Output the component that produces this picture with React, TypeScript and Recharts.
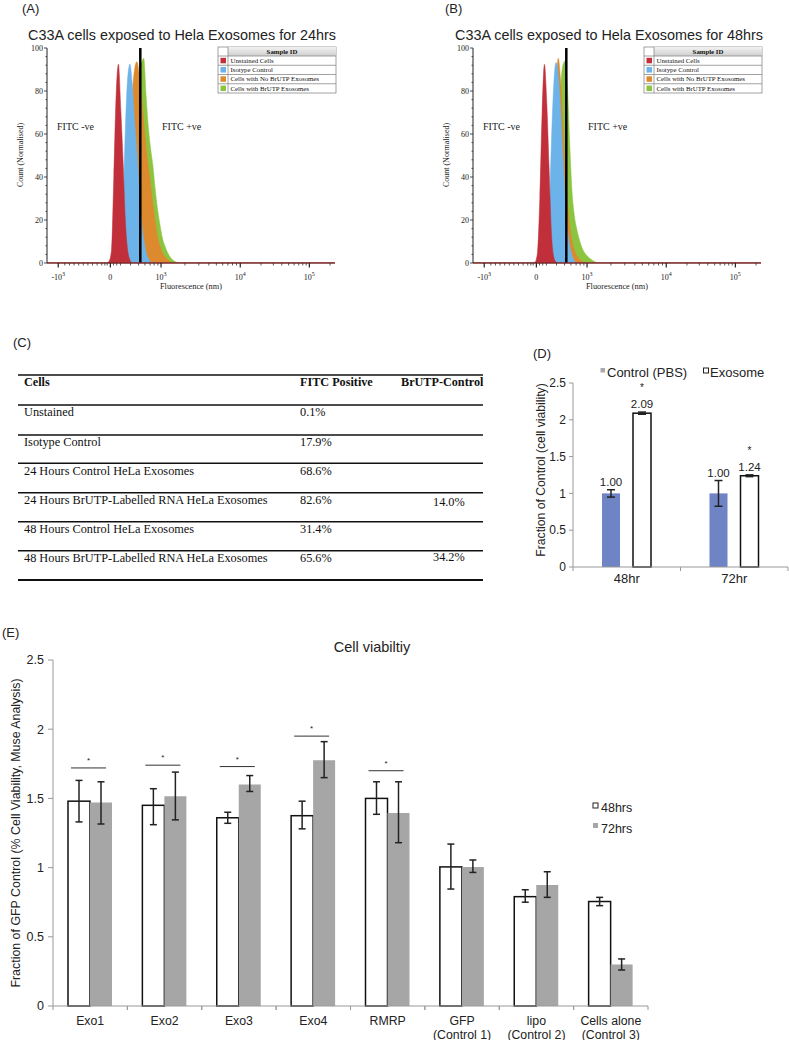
import React from 'react';
import { AreaChart, Area, XAxis, YAxis, ReferenceLine, BarChart, Bar, ErrorBar } from 'recharts';

const SANS = "'Liberation Sans', Arial, Helvetica, sans-serif";
const SERIF = "'Liberation Serif', 'Times New Roman', Times, serif";

// ---- (A)/(B) flow histograms, x in display channels of the biexponential axis ----
const flowChannels = [0, 200, 208, 216, 224, 232, 240, 248, 256, 264, 272, 280, 288, 296, 304, 312, 320, 328, 336, 344, 352, 360, 368, 376, 384, 392, 400, 412, 424, 436, 448, 460, 1000];

const unstained24 = [0, 0, 0, 1, 6, 40, 78, 92.5, 72, 48, 20, 6, 1.5, 0, 0, 0, 0, 0, 0, 0, 0, 0, 0, 0, 0, 0, 0, 0, 0, 0, 0, 0, 0];
const isotype24 = [0, 0, 0, 0, 0, 0, 0, 0, 3, 25, 62, 86, 92.5, 83, 66, 52, 35, 20, 11, 5, 2, 0.5, 0, 0, 0, 0, 0, 0, 0, 0, 0, 0, 0];
const noBrutp24 = [0, 0, 0, 0, 0, 0, 0, 0, 0, 0, 5, 25, 55, 78, 90, 93.6, 88, 78, 66, 54, 45, 36, 27, 19, 12, 8, 5, 2.5, 1, 0, 0, 0, 0];
const brutp24 = [0, 0, 0, 0, 0, 0, 0, 0, 0, 0, 0, 0, 8, 30, 60, 80, 89, 93, 95.2, 78, 63, 53, 45, 34, 25, 18, 12, 7, 3.5, 1.5, 0.5, 0, 0];

const unstained48 = [0, 0, 0, 0.5, 5, 30, 70, 92.4, 75, 45, 15, 3, 0.5, 0, 0, 0, 0, 0, 0, 0, 0, 0, 0, 0, 0, 0, 0, 0, 0, 0, 0, 0, 0];
const isotype48 = [0, 0, 0, 0, 0, 0, 0, 0, 0, 20, 55, 82, 93.3, 88, 72, 50, 30, 16, 8, 3.5, 1, 0, 0, 0, 0, 0, 0, 0, 0, 0, 0, 0, 0];
const noBrutp48 = [0, 0, 0, 0, 0, 0, 0, 0, 0, 0, 8, 40, 78, 95.2, 85, 65, 44, 28, 17, 10, 6, 3.5, 2, 1, 0.5, 0, 0, 0, 0, 0, 0, 0, 0];
const brutp48 = [0, 0, 0, 0, 0, 0, 0, 0, 0, 0, 0, 0, 15, 50, 80, 92, 94, 82, 55, 33, 22, 16, 11.5, 8, 5.5, 4, 2.8, 1.5, 0.5, 0, 0, 0, 0];

const sampleNames = ['Unstained Cells', 'Isotype Control', 'Cells with No BrUTP Exosomes', 'Cells with BrUTP Exosomes'];
const sampleColors = ['#c1303a', '#6cb3ea', '#dd8a2e', '#8cc43f'];
const gateChannel = [324, 324];
const flowTitles = ['C33A cells exposed to Hela Exosomes for 24hrs', 'C33A cells exposed to Hela Exosomes for 48hrs'];

const flowMajorTicks = [39, 220, 396, 671, 911];
const flowMajorLabels = ['-10^3', '0', '10^3', '10^4', '10^5'];
const flowMinorTicks = [62, 78, 94, 110, 126, 142, 158, 174, 190, 201, 209, 231, 242, 255, 290, 318, 340, 358, 372, 385, 479, 527, 562, 588, 610, 628, 644, 658, 743, 786, 815, 839, 858, 874, 888, 900, 983];
const countTicks = [0, 4, 8, 12, 16, 20, 24, 28, 32, 36, 40, 44, 48, 52, 56, 60, 64, 68, 72, 76, 80, 84, 88, 92, 96, 100];

// ---- (C) table ----
const tableHeaders = ['Cells', 'FITC Positive', 'BrUTP-Control'];
const tableCells = ['Unstained', 'Isotype Control', '24 Hours Control HeLa Exosomes', '24 Hours BrUTP-Labelled RNA HeLa Exosomes', '48 Hours Control HeLa Exosomes', '48 Hours BrUTP-Labelled RNA HeLa Exosomes'];
const tableFitc = ['0.1%', '17.9%', '68.6%', '82.6%', '31.4%', '65.6%'];
const tableBrutp = ['', '', '', '14.0%', '', '34.2%'];

// ---- (D) ----
const timeGroups = ['48hr', '72hr'];
const controlPBS = [1.0, 1.0];
const controlPBSErr = [0.05, 0.175];
const exosome = [2.09, 1.24];
const exosomeErr = [0.015, 0.012];
const exosomeSig = [true, true];

// ---- (E) ----
const constructs = ['Exo1', 'Exo2', 'Exo3', 'Exo4', 'RMRP', 'GFP\n(Control 1)', 'lipo\n(Control 2)', 'Cells alone\n(Control 3)'];
const viability48 = [1.48, 1.45, 1.36, 1.375, 1.5, 1.005, 0.79, 0.755];
const viability48Err = [[0.15, 0.15], [0.14, 0.12], [0.04, 0.04], [0.095, 0.105], [0.115, 0.12], [0.16, 0.165], [0.04, 0.05], [0.03, 0.03]];
const viability72 = [1.47, 1.515, 1.6, 1.775, 1.395, 1.005, 0.875, 0.3];
const viability72Err = [[0.155, 0.15], [0.17, 0.175], [0.05, 0.065], [0.125, 0.135], [0.215, 0.225], [0.04, 0.05], [0.09, 0.095], [0.04, 0.04]];
const sigLevel = [1.72, 1.74, 1.73, 1.95, 1.7, null, null, null];

const D_BAND = 215 / timeGroups.length;
const E_BAND = 595 / constructs.length;

const FlowXTick = (p: any) => {
  const { x, y, payload } = p;
  const i = flowMajorTicks.indexOf(payload.value);
  if (i < 0) return <line x1={x} x2={x} y1={y} y2={y + 2.5} stroke="#333" strokeWidth={0.8} />;
  const [base, exp] = flowMajorLabels[i].split('^');
  return (
    <g>
      <line x1={x} x2={x} y1={y} y2={y + 4.5} stroke="#222" strokeWidth={1.2} />
      <text x={x} y={y + 16.5} textAnchor="middle" fontFamily={SERIF} fontSize={8} fill="#222">
        {base}
        {exp && <tspan dy={-3.5} fontSize={6}>{exp}</tspan>}
      </text>
    </g>
  );
};

const FlowYTick = (p: any) => {
  const { x, y, payload } = p;
  const major = payload.value % 20 === 0;
  return (
    <g>
      <line x1={x - (major ? 3 : 1.5)} x2={x} y1={y} y2={y} stroke="#222" strokeWidth={0.8} />
      {major && (
        <text x={x - 4} y={y + 2.8} textAnchor="end" fontFamily={SERIF} fontSize={8} fill="#222">{payload.value}</text>
      )}
    </g>
  );
};

function FlowChart({ rows, gate }: { rows: any[]; gate: number }) {
  const keys = ['s3', 's2', 's1', 's0'];
  return (
    <AreaChart width={346} height={300} data={rows} margin={{ top: 48, right: 11, bottom: 7, left: 17 }}>
      <XAxis dataKey="ch" type="number" domain={[0, 1000]} allowDataOverflow ticks={[...flowMajorTicks, ...flowMinorTicks].sort((a, b) => a - b)} interval={0}
        tick={(p: any) => <FlowXTick {...p} />} tickLine={false} tickSize={0} tickMargin={0} height={30}
        axisLine={{ stroke: '#7d2a2a', strokeWidth: 1.5 }} />
      <YAxis type="number" domain={[0, 100]} allowDataOverflow ticks={countTicks} interval={0}
        tick={(p: any) => <FlowYTick {...p} />} tickLine={false} tickSize={0} tickMargin={0} width={30}
        axisLine={{ stroke: '#222' }} />
      {keys.map((k) => {
        const c = sampleColors[Number(k.slice(1))];
        return (
          <Area key={k} type="monotone" dataKey={k} fill={c} fillOpacity={1} stroke={c} strokeWidth={0.5}
            dot={false} activeDot={false} isAnimationActive={false} />
        );
      })}
      <ReferenceLine x={gate} stroke="#000" strokeWidth={2.5} />
    </AreaChart>
  );
}

const makeDShape = (valueKey: string, errKey: string, fill: string, outlined: boolean, starKey?: string) => (p: any) => {
  const { x, y, width, height, payload } = p;
  const v = payload[valueKey];
  const e = payload[errKey];
  const base = y + height;
  const ppu = height / v;
  const errTop = base - (v + e) * ppu;
  const cx = x + width / 2;
  return (
    <g>
      <rect x={x} y={y} width={width} height={height} fill={fill} stroke={outlined ? '#111' : 'none'} strokeWidth={1.5} />
      <text x={cx} y={errTop - 4} textAnchor="middle" fontFamily={SANS} fontSize={11.5} fill="#222">{v.toFixed(2)}</text>
      {starKey && payload[starKey] && (
        <text x={cx} y={errTop - 21} textAnchor="middle" fontFamily={SANS} fontSize={10} fill="#222">*</text>
      )}
    </g>
  );
};

const DXTick = (p: any) => {
  const { x, y, payload } = p;
  const h = D_BAND / 2;
  return (
    <g>
      <line x1={x - h} x2={x - h} y1={y} y2={y + 4} stroke="#999" />
      <line x1={x + h} x2={x + h} y1={y} y2={y + 4} stroke="#999" />
      <text x={x} y={y + 15.5} textAnchor="middle" fontFamily={SANS} fontSize={13} fill="#222">{payload.value}</text>
    </g>
  );
};

const EXTick = (p: any) => {
  const { x, y, payload } = p;
  const h = E_BAND / 2;
  const lines = String(payload.value).split('\n');
  return (
    <g>
      <line x1={x - h} x2={x - h} y1={y} y2={y + 4} stroke="#999" />
      <line x1={x + h} x2={x + h} y1={y} y2={y + 4} stroke="#999" />
      {lines.map((l, i) => (
        <text key={i} x={x} y={y + 18.5 + i * 14} textAnchor="middle" fontFamily={SANS} fontSize={12.3} fill="#222">{l}</text>
      ))}
    </g>
  );
};

const EWhiteShape = (p: any) => {
  const { x, y, width, height, payload } = p;
  const base = y + height;
  const ppu = height / payload.v48;
  const s = payload.sig;
  return (
    <g>
      <rect x={x} y={y} width={width} height={height} fill="#fff" stroke="#111" strokeWidth={1.5} />
      {s != null && (
        <g>
          <line x1={x + 3} x2={x + 2 * width - 6} y1={base - s * ppu} y2={base - s * ppu} stroke="#333" strokeWidth={1} />
          <text x={x + width - 1.5} y={base - s * ppu - 5} textAnchor="middle" fontFamily={SANS} fontSize={8} fill="#222">*</text>
        </g>
      )}
    </g>
  );
};

function FlowLegend({ lx }: { lx: number }) {
  return (
    <g fontFamily={SERIF}>
      <rect x={lx} y={47} width={118} height={46} fill="#fff" stroke="#8a8a8a" strokeWidth={0.8} />
      <rect x={lx + 10} y={47} width={108} height={9} fill="url(#hdr)" />
      <text x={lx + 64} y={54} textAnchor="middle" fontSize={6.8} fontWeight="bold" fill="#111">Sample ID</text>
      <line x1={lx + 10} x2={lx + 10} y1={47} y2={93} stroke="#8a8a8a" strokeWidth={0.8} />
      {sampleNames.map((n, i) => {
        const y0 = 56 + i * 9.25;
        return (
          <g key={n}>
            <line x1={lx} x2={lx + 118} y1={y0} y2={y0} stroke="#8a8a8a" strokeWidth={0.8} />
            <rect x={lx + 2.5} y={y0 + 1.8} width={5.5} height={5.5} fill={sampleColors[i]} />
            <text x={lx + 12.5} y={y0 + 6.8} fontSize={6.8} fill="#111">{n}</text>
          </g>
        );
      })}
    </g>
  );
}

export default function App() {
  const toRows = (a: number[], b: number[], c: number[], d: number[]) =>
    flowChannels.map((ch, i) => ({ ch, s0: a[i], s1: b[i], s2: c[i], s3: d[i] }));
  const rowsA = toRows(unstained24, isotype24, noBrutp24, brutp24);
  const rowsB = toRows(unstained48, isotype48, noBrutp48, brutp48);
  const rowsD = timeGroups.map((name, i) => ({
    name, control: controlPBS[i], controlErr: controlPBSErr[i], exo: exosome[i], exoErr: exosomeErr[i], sig: exosomeSig[i],
  }));
  const rowsE = constructs.map((name, i) => ({
    name, v48: viability48[i], e48: viability48Err[i], v72: viability72[i], e72: viability72Err[i], sig: sigLevel[i],
  }));
  const tableLines = [375, 405, 435, 463.3, 492.7, 521.7, 550.7, 580];
  const colX = [24, 300, 401];

  return (
    <div style={{ position: 'absolute', left: 0, top: 0, width: 789, height: 1042, background: '#fff', overflow: 'hidden' }}>
      <div style={{ position: 'absolute', left: 0, top: 0 }}>
        <FlowChart rows={rowsA} gate={gateChannel[0]} />
      </div>
      <div style={{ position: 'absolute', left: 426, top: 0 }}>
        <FlowChart rows={rowsB} gate={gateChannel[1]} />
      </div>

      <div style={{ position: 'absolute', left: 520, top: 340 }}>
        <BarChart width={269} height={250} data={rowsD} margin={{ top: 43, right: 1, bottom: 3, left: 20 }} barSize={18} barGap={13}>
          <XAxis dataKey="name" height={20} interval={0} tick={(p: any) => <DXTick {...p} />} tickLine={false} tickSize={0} tickMargin={0} axisLine={{ stroke: '#999' }} />
          <YAxis type="number" domain={[0, 2.5]} ticks={[0, 0.5, 1, 1.5, 2, 2.5]} interval={0} width={33} tickSize={4} tickMargin={3}
            tick={{ fontSize: 12, fill: '#222', fontFamily: SANS }} axisLine={{ stroke: '#999' }} tickLine={{ stroke: '#999' }} />
          <Bar dataKey="control" fill="#6f84c4" isAnimationActive={false} shape={makeDShape('control', 'controlErr', '#6f84c4', false)}>
            <ErrorBar dataKey="controlErr" width={4} strokeWidth={1.5} stroke="#222" />
          </Bar>
          <Bar dataKey="exo" fill="#fff" isAnimationActive={false} shape={makeDShape('exo', 'exoErr', '#fff', true, 'sig')}>
            <ErrorBar dataKey="exoErr" width={4} strokeWidth={1.5} stroke="#222" />
          </Bar>
        </BarChart>
      </div>

      <div style={{ position: 'absolute', left: 0, top: 640 }}>
        <BarChart width={660} height={400} data={rowsE} margin={{ top: 20, right: 12, bottom: 0, left: 20 }} barSize={22} barGap={0}>
          <XAxis dataKey="name" height={34} interval={0} tick={(p: any) => <EXTick {...p} />} tickLine={false} tickSize={0} tickMargin={0} axisLine={{ stroke: '#999' }} />
          <YAxis type="number" domain={[0, 2.5]} ticks={[0, 0.5, 1, 1.5, 2, 2.5]} interval={0} width={33} tickSize={5} tickMargin={4}
            tick={{ fontSize: 12.5, fill: '#222', fontFamily: SANS }} axisLine={{ stroke: '#999' }} tickLine={{ stroke: '#999' }} />
          <Bar dataKey="v48" fill="#fff" isAnimationActive={false} shape={(p: any) => <EWhiteShape {...p} />}>
            <ErrorBar dataKey="e48" width={3.5} strokeWidth={1.5} stroke="#222" />
          </Bar>
          <Bar dataKey="v72" fill="#a6a6a6" isAnimationActive={false}>
            <ErrorBar dataKey="e72" width={3.5} strokeWidth={1.5} stroke="#222" />
          </Bar>
        </BarChart>
      </div>

      <svg width={789} height={1042} style={{ position: 'absolute', left: 0, top: 0, pointerEvents: 'none' }}>
        <defs>
          <linearGradient id="hdr" x1="0" y1="0" x2="0" y2="1">
            <stop offset="0" stopColor="#f2f2f2" />
            <stop offset="1" stopColor="#cfcfcf" />
          </linearGradient>
        </defs>

        {/* panel letters */}
        <g fontFamily={SANS} fontSize={13} fill="#222">
          <text x={22} y={13}>(A)</text>
          <text x={445} y={13}>(B)</text>
          <text x={13} y={347}>(C)</text>
          <text x={533} y={357.5}>(D)</text>
          <text x={2} y={637}>(E)</text>
        </g>

        {/* flow panels text */}
        <g fontFamily={SANS} fontSize={14.4} fill="#222">
          <text x={28} y={39.5}>{flowTitles[0]}</text>
          <text x={455} y={39.5}>{flowTitles[1]}</text>
        </g>
        {[0, 426].map((dx) => (
          <g key={dx} fontFamily={SERIF} fill="#222">
            <text x={57 + dx} y={130} fontSize={10}>FITC -ve</text>
            <text x={162 + dx} y={130} fontSize={10}>FITC +ve</text>
            <text x={191 + dx} y={289} fontSize={8.3} textAnchor="middle">Fluorescence (nm)</text>
            <text transform={`translate(${23 + dx},155) rotate(-90)`} fontSize={8} textAnchor="middle">Count (Normalised)</text>
          </g>
        ))}
        <FlowLegend lx={218} />
        <FlowLegend lx={644} />

        {/* (C) table */}
        {tableLines.map((ly, i) => (
          <line key={i} x1={18} x2={483} y1={ly} y2={ly} stroke="#111" strokeWidth={i === tableLines.length - 1 ? 2 : 1.4} />
        ))}
        <g fontFamily={SERIF} fontSize={12.3} fill="#111">
          {tableHeaders.map((h, i) => (
            <text key={h} x={colX[i]} y={386} fontWeight="bold" fontSize={12.2}>{h}</text>
          ))}
          {tableCells.map((c, i) => {
            const by = tableLines[i + 1] + 11.3;
            return (
              <g key={c}>
                <text x={colX[0]} y={by}>{c}</text>
                <text x={colX[1]} y={by}>{tableFitc[i]}</text>
                {tableBrutp[i] && <text x={433} y={by + (i === 3 ? 1.7 : -1)}>{tableBrutp[i]}</text>}
              </g>
            );
          })}
        </g>

        {/* (D) legend + axis title */}
        <g fontFamily={SANS} fill="#222">
          <rect x={600.5} y={368} width={4.5} height={4.5} fill="#aaaaaa" />
          <text x={607} y={377} fontSize={13}>Control (PBS)</text>
          <rect x={703.5} y={368} width={5} height={5} fill="#fff" stroke="#222" strokeWidth={1} />
          <text x={710} y={377} fontSize={13}>Exosome</text>
          <text transform="translate(545,470) rotate(-90)" fontSize={12.2} textAnchor="middle">Fraction of Control (cell viability)</text>
        </g>

        {/* (E) title, legend, axis title */}
        <g fontFamily={SANS} fill="#222">
          <text x={372} y={652} fontSize={14.5} textAnchor="middle">Cell viabiltiy</text>
          <rect x={593} y={803} width={5} height={5} fill="#fff" stroke="#222" strokeWidth={1} />
          <text x={601} y={811.5} fontSize={12.5}>48hrs</text>
          <rect x={593} y={823} width={5} height={5} fill="#a6a6a6" />
          <text x={601} y={832.5} fontSize={12.5}>72hrs</text>
          <text transform="translate(20,833) rotate(-90)" fontSize={12.4} textAnchor="middle">Fraction of GFP Control (% Cell Viability, Muse Analysis)</text>
        </g>
      </svg>
    </div>
  );
}
